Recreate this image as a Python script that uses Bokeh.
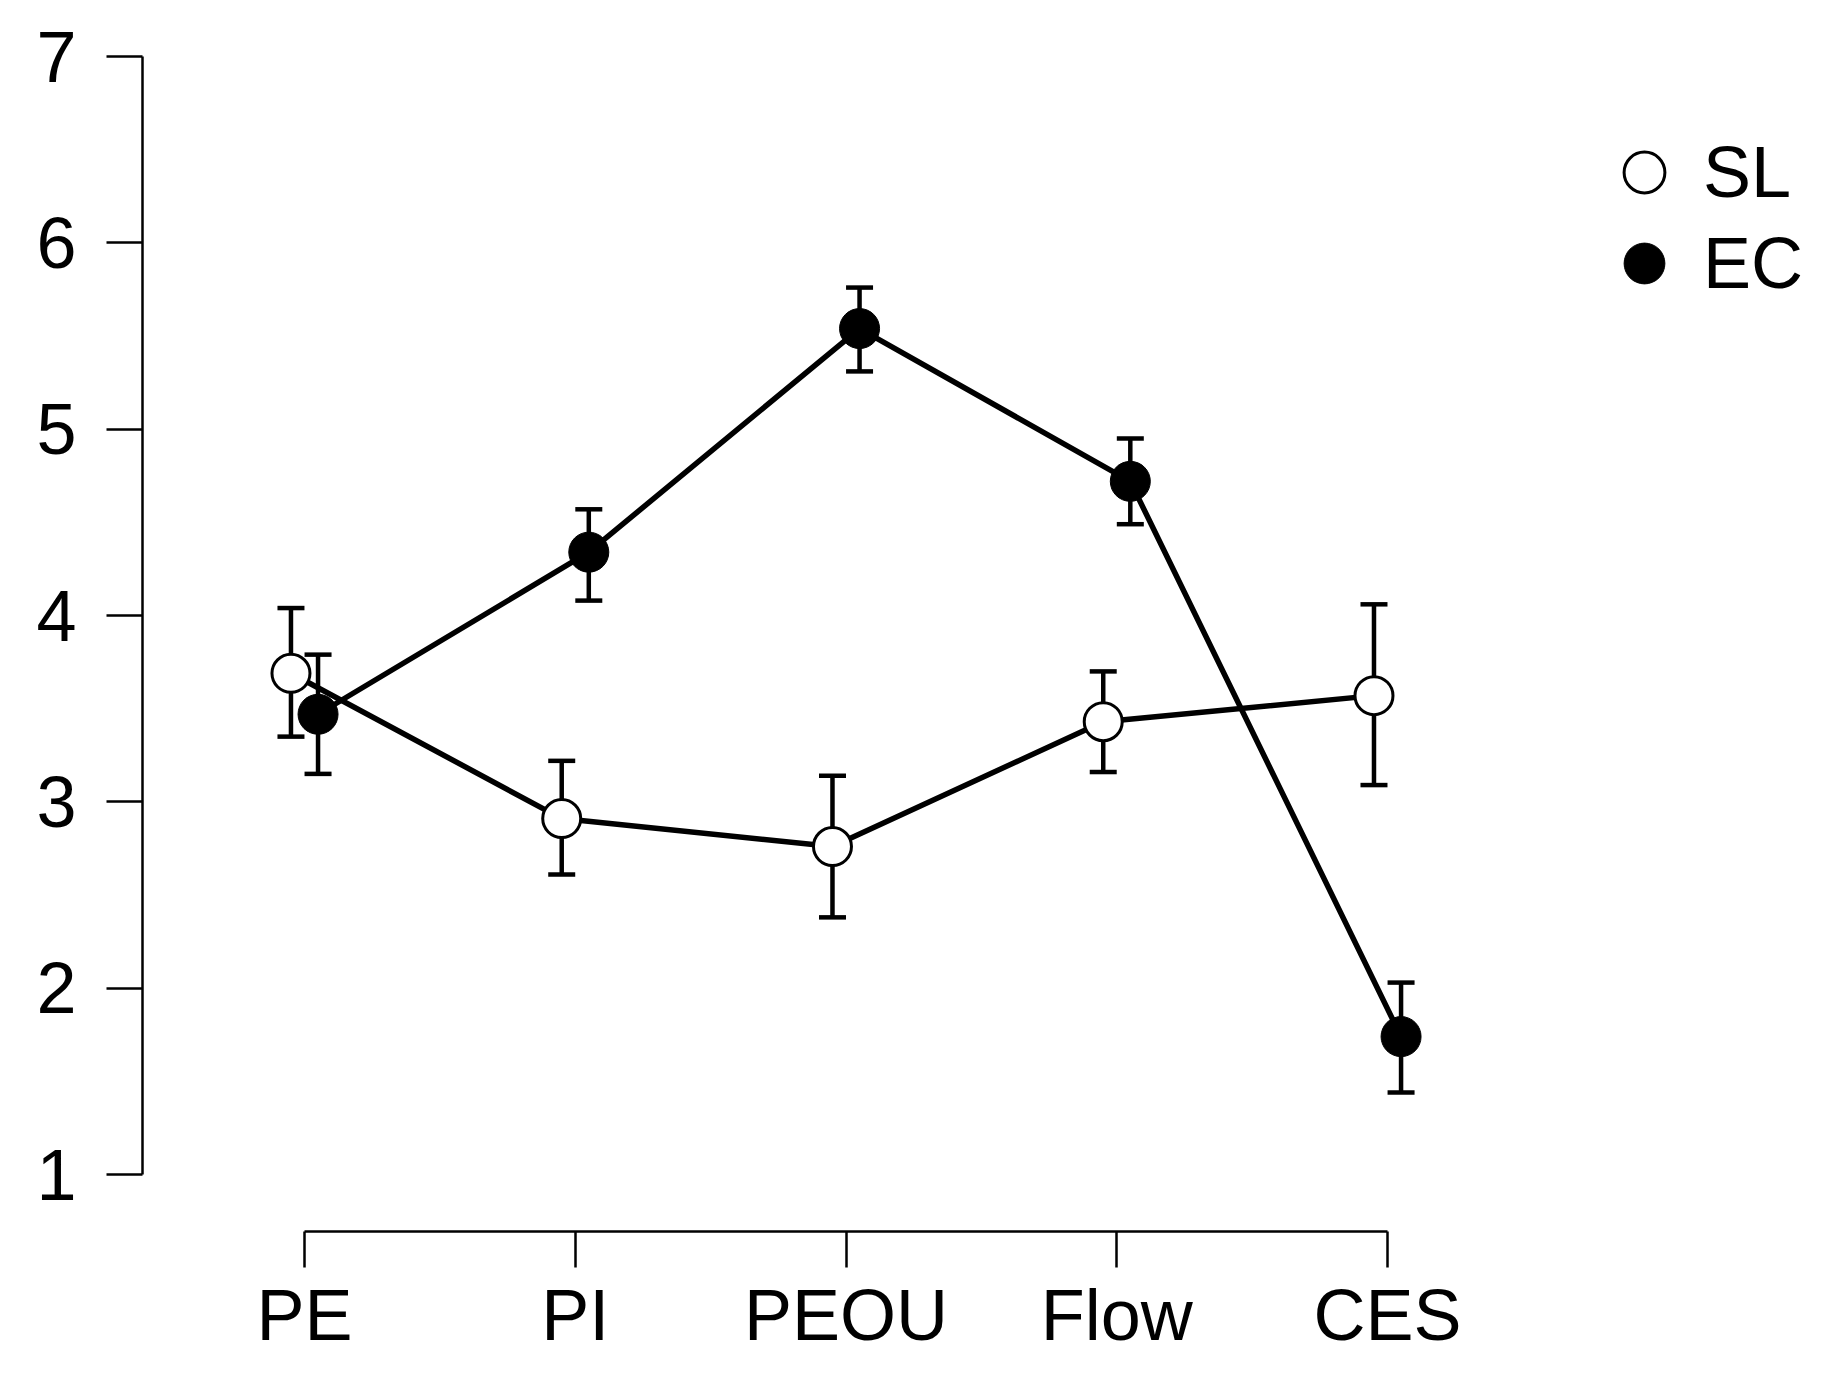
from bokeh.plotting import figure
from bokeh.models import (Range1d, FixedTicker, Whisker, ColumnDataSource, Legend,
                          LegendItem, TeeHead)
from bokeh.embed import file_html
from bokeh.resources import INLINE

categories = ["PE", "PI", "PEOU", "Flow", "CES"]
sl_mean = [3.69, 2.91, 2.76, 3.43, 3.57]
sl_lower = [3.35, 2.61, 2.38, 3.16, 3.09]
sl_upper = [4.04, 3.22, 3.14, 3.70, 4.06]
ec_mean = [3.47, 4.34, 5.54, 4.72, 1.74]
ec_lower = [3.15, 4.08, 5.31, 4.49, 1.44]
ec_upper = [3.79, 4.57, 5.76, 4.95, 2.03]
y_ticks = [1, 2, 3, 4, 5, 6, 7]

FONT = "Liberation Sans"
dodge = 0.05
pos = list(range(1, len(categories) + 1))
x_sl = [p_ - dodge for p_ in pos]
x_ec = [p_ + dodge for p_ in pos]

p = figure(width=1823, height=1371,
           x_range=Range1d(0.40166, 6.5733), y_range=Range1d(0.6941, 7.204),
           output_backend="svg", toolbar_location=None,
           min_border_left=142, min_border_right=10, min_border_top=18,
           min_border_bottom=140)
p.outline_line_color = None
p.xgrid.visible = False
p.ygrid.visible = False
p.background_fill_color = "white"

# x axis
p.xaxis.ticker = FixedTicker(ticks=pos)
p.xaxis.major_label_overrides = {i: c for i, c in zip(pos, categories)}
p.xaxis.bounds = (1, 5)
# y axis
p.yaxis.ticker = FixedTicker(ticks=y_ticks)
p.yaxis.bounds = (1, 7)
for ax in (p.xaxis, p.yaxis):
    ax.axis_line_width = 2.5
    ax.axis_line_color = "black"
    ax.major_tick_line_width = 2.5
    ax.major_tick_line_color = "black"
    ax.major_tick_in = 0
    ax.major_tick_out = 36
    ax.minor_tick_line_color = None
    ax.major_label_text_font = FONT
    ax.major_label_text_font_size = "72px"
    ax.major_label_text_color = "black"
p.xaxis.major_label_standoff = 7
p.yaxis.major_label_standoff = 30

# error bars
src_sl = ColumnDataSource(dict(x=x_sl, m=sl_mean, lo=sl_lower, hi=sl_upper))
src_ec = ColumnDataSource(dict(x=x_ec, m=ec_mean, lo=ec_lower, hi=ec_upper))
for src in (src_sl, src_ec):
    w = Whisker(source=src, base="x", upper="hi", lower="lo", dimension="height",
                line_width=4.5, line_color="black",
                upper_head=TeeHead(size=27, line_width=4.5, line_color="black"),
                lower_head=TeeHead(size=27, line_width=4.5, line_color="black"))
    p.add_layout(w)

# lines
p.line("x", "m", source=src_ec, line_width=5.5, line_color="black")
p.line("x", "m", source=src_sl, line_width=5.5, line_color="black")

# markers
r_ec = p.scatter("x", "m", source=src_ec, size=40, fill_color="black",
                 line_color="black", line_width=1)
r_sl = p.scatter("x", "m", source=src_sl, size=38, fill_color="white",
                 line_color="black", line_width=3)

def make_legend(label, rend, loc):
    lg = Legend(items=[LegendItem(label=label, renderers=[rend])], location=loc,
                glyph_width=102, glyph_height=102, label_standoff=8,
                label_text_font=FONT, label_text_font_size="72px",
                label_text_color="black", padding=0, margin=0, spacing=0,
                border_line_color=None, background_fill_alpha=0)
    p.add_layout(lg)

make_legend("SL", r_sl, (1451, 1008))
make_legend("EC", r_ec, (1451, 917))

open("out.html", "w").write(file_html(p, INLINE))
